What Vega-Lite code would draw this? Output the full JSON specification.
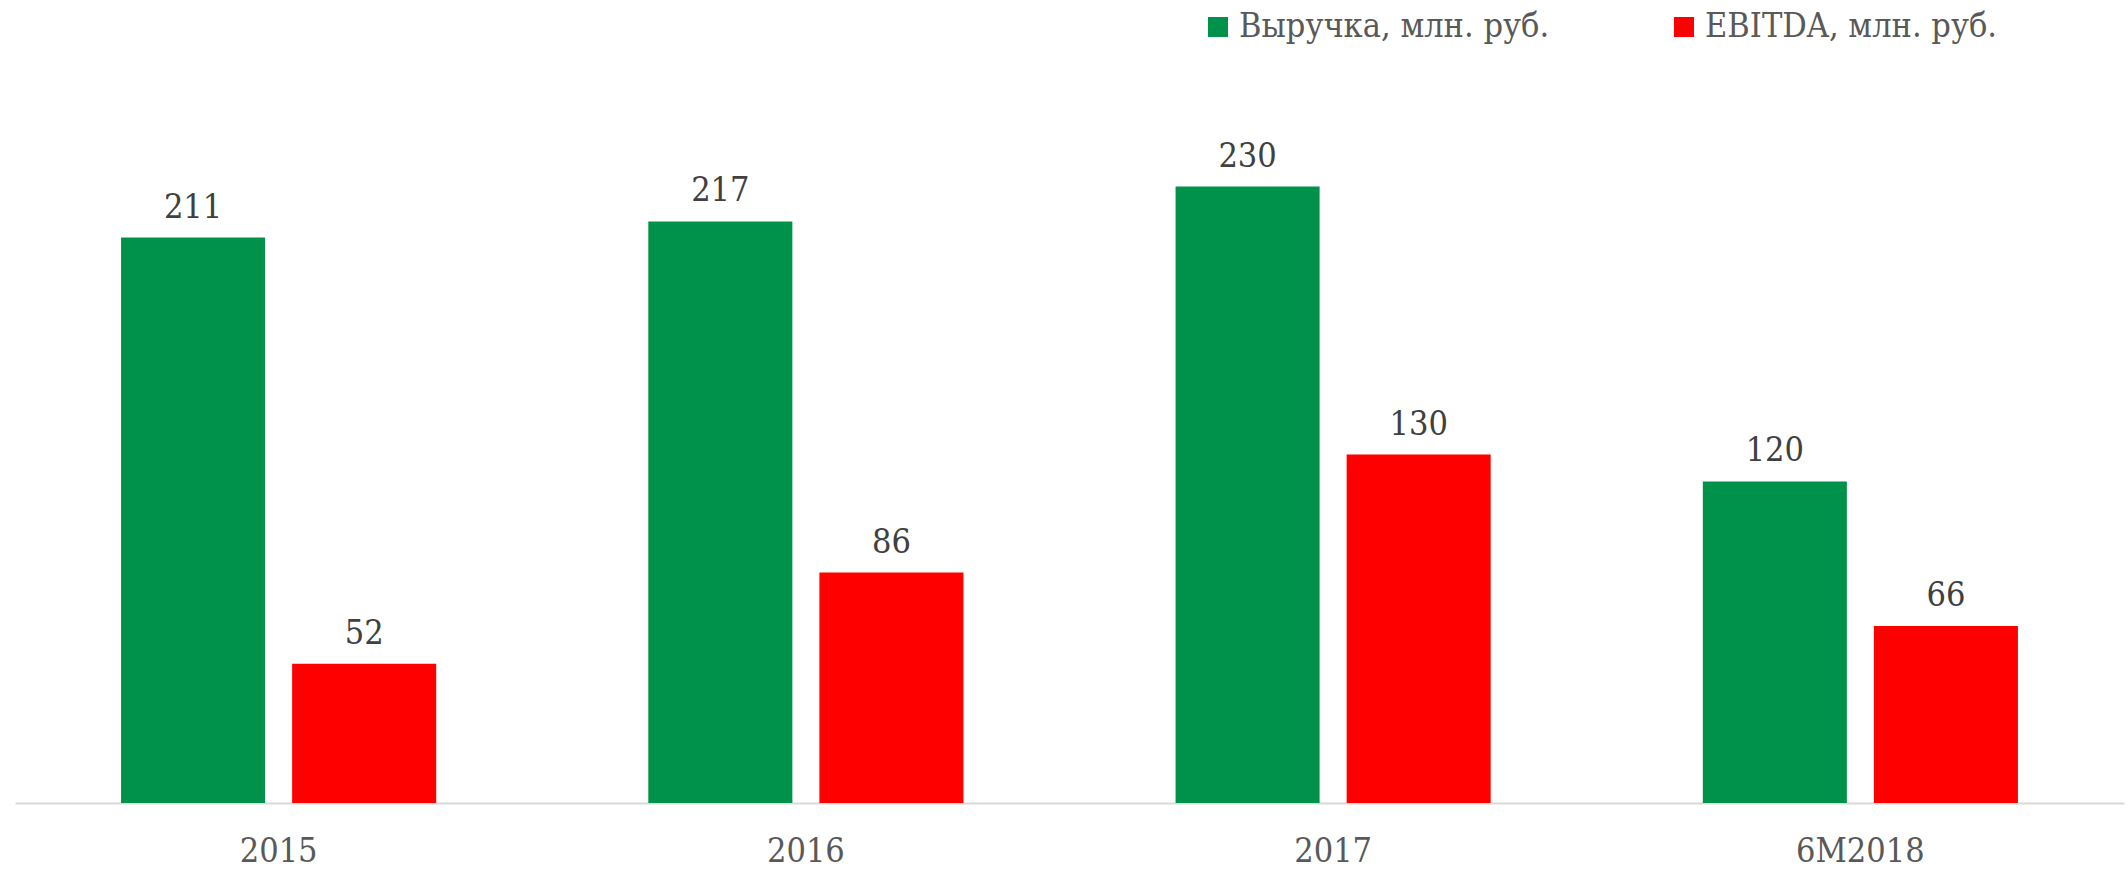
{
  "$schema": "https://vega.github.io/schema/vega-lite/v6.json",
  "width": 2109,
  "height": 670,
  "autosize": {"type": "none"},
  "padding": {"left": 15, "top": 133, "right": 4, "bottom": 66},
  "data": {
    "values": [
      {"period": "2015", "series": "Выручка, млн. руб.", "value": 211},
      {"period": "2015", "series": "EBITDA, млн. руб.", "value": 52},
      {"period": "2016", "series": "Выручка, млн. руб.", "value": 217},
      {"period": "2016", "series": "EBITDA, млн. руб.", "value": 86},
      {"period": "2017", "series": "Выручка, млн. руб.", "value": 230},
      {"period": "2017", "series": "EBITDA, млн. руб.", "value": 130},
      {"period": "6M2018", "series": "Выручка, млн. руб.", "value": 120},
      {"period": "6M2018", "series": "EBITDA, млн. руб.", "value": 66}
    ]
  },
  "encoding": {
    "x": {
      "field": "period",
      "type": "nominal",
      "sort": ["2015", "2016", "2017", "6M2018"],
      "scale": {"paddingInner": 0, "paddingOuter": 0},
      "title": null,
      "axis": {
        "labelAngle": 0,
        "ticks": false,
        "labelFont": "DejaVu Serif Condensed",
        "labelFontSize": 34,
        "labelColor": "#595959",
        "labelBaseline": "alphabetic",
        "labelPadding": 58,
        "domainColor": "#D9D9D9",
        "domainWidth": 2
      }
    },
    "xOffset": {
      "field": "series",
      "sort": ["Выручка, млн. руб.", "EBITDA, млн. руб."],
      "scale": {"paddingInner": 0.158, "paddingOuter": 0.62}
    },
    "y": {
      "field": "value",
      "type": "quantitative",
      "scale": {"domain": [0, 250]},
      "axis": null
    }
  },
  "layer": [
    {
      "mark": {"type": "bar"},
      "encoding": {
        "color": {
          "field": "series",
          "type": "nominal",
          "sort": ["Выручка, млн. руб.", "EBITDA, млн. руб."],
          "scale": {
            "domain": ["Выручка, млн. руб.", "EBITDA, млн. руб."],
            "range": ["#00914A", "#FF0000"]
          },
          "legend": {
            "title": null,
            "orient": "none",
            "direction": "horizontal",
            "columns": 2,
            "legendX": 1186,
            "legendY": -123,
            "symbolType": "square",
            "symbolSize": 400,
            "symbolStrokeWidth": 0,
            "labelFont": "DejaVu Serif Condensed",
            "labelFontSize": 34,
            "labelColor": "#595959",
            "labelOffset": 4,
            "labelLimit": 0,
            "columnPadding": 117
          }
        }
      }
    },
    {
      "mark": {
        "type": "text",
        "baseline": "alphabetic",
        "dy": -20,
        "font": "DejaVu Serif Condensed",
        "fontSize": 34,
        "color": "#404040"
      },
      "encoding": {"text": {"field": "value", "type": "quantitative"}}
    }
  ],
  "config": {"view": {"stroke": null}}
}
